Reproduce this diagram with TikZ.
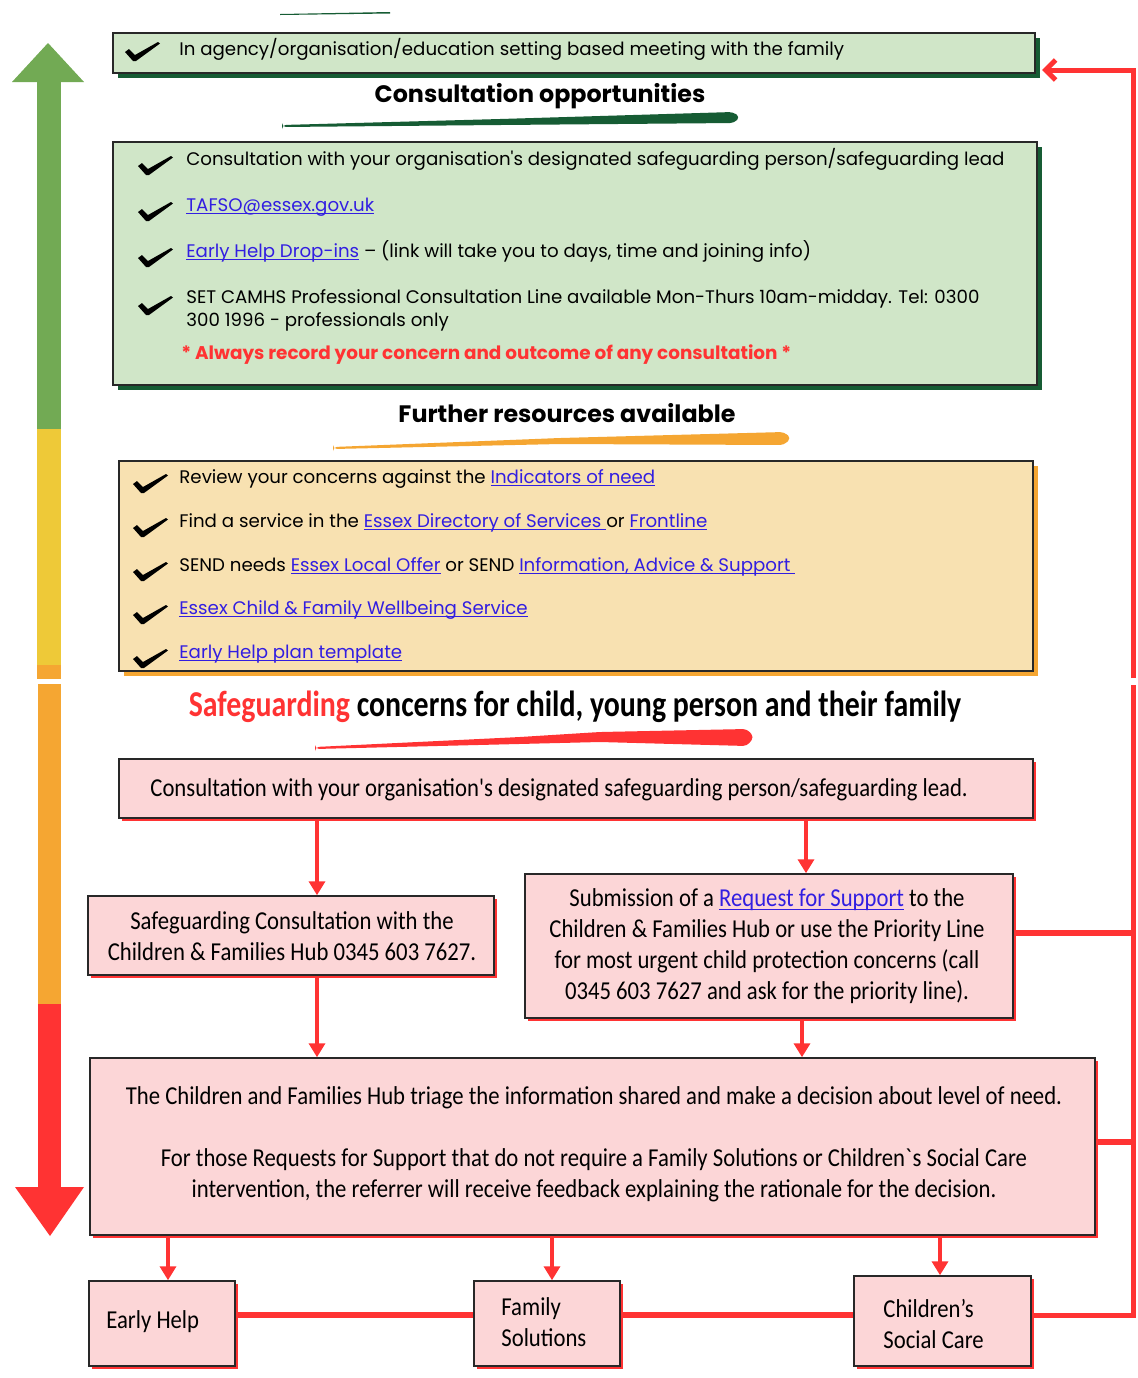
\documentclass[tikz,border=0pt]{standalone}
\usepackage{fontspec}
\setmainfont{Carlito}
\newfontfamily\geo{Poppins}
\newfontfamily\cond[FakeStretch=0.88]{Carlito}
\newfontfamily\condh[FakeStretch=0.82]{Carlito}
\usetikzlibrary{arrows.meta,fit,calc}
\definecolor{lgreen}{RGB}{208,230,200}
\definecolor{dgreen}{RGB}{22,92,52}
\definecolor{agreen}{RGB}{114,170,84}
\definecolor{ayellow}{RGB}{238,201,56}
\definecolor{aorange}{RGB}{245,166,50}
\definecolor{lyellow}{RGB}{248,225,177}
\definecolor{lpink}{RGB}{252,214,215}
\definecolor{sred}{RGB}{255,51,51}
\definecolor{linkblue}{RGB}{50,30,225}
\definecolor{bordr}{RGB}{40,40,40}
\newcommand\lnk[1]{{\color{linkblue}\setbox0\hbox{#1}\rlap{\vrule height -1.1pt depth 1.7pt width \wd0}\box0}}
\begin{document}
\begin{tikzpicture}[x=0.5pt,y=-0.5pt,
  gbox/.style={draw=bordr, line width=1.1pt, fill=lgreen, inner sep=0pt,
    preaction={fill=dgreen, transform canvas={xshift=2.5pt,yshift=-2.5pt}}},
  ybox/.style={draw=bordr, line width=1.1pt, fill=lyellow, inner sep=0pt,
    preaction={fill=aorange, transform canvas={xshift=2.5pt,yshift=-2.5pt}}},
  pbox/.style={draw=bordr, line width=0.75pt, fill=lpink, inner sep=0pt,
    preaction={fill=sred, transform canvas={xshift=1.5pt,yshift=-1.5pt}}},
  gtxt/.style={font=\geo\fontsize{9.1}{11.5}\selectfont, inner sep=0pt, anchor=base west},
  ghead/.style={font=\geo\bfseries\fontsize{11.9}{14}\selectfont, inner sep=0pt, anchor=base},
  ptxt/.style={font=\cond\fontsize{12.9}{15.5}\selectfont, inner sep=0pt, align=left},
  ctxt/.style={font=\cond\fontsize{12.9}{15.5}\selectfont, inner sep=0pt, align=center},
  conn/.style={draw=sred, line width=2pt, -{Triangle[length=7pt,width=8pt]}},
  rline/.style={draw=sred, line width=2.5pt},
  hline/.style={draw=sred, line width=3pt},
  tick/.pic={\fill[black] (0,9) -- (4,6) -- (10,12) -- (33,-1) -- (35,0.5) -- (11,18) -- (8,18) -- cycle;}
]
\fill[white] (0,0) rectangle (1138,1378);
\path[use as bounding box] (0,0) rectangle (1138,1378);

% ---- left colour arrow
\fill[agreen] (12,82) -- (48,43) -- (84,82) -- cycle;
\fill[agreen] (37,81) rectangle (61,429);
\fill[ayellow] (37,429) rectangle (61,665);
\fill[aorange] (37,665) rectangle (61,679);
\fill[aorange] (38,684) rectangle (61,1004);
\fill[sred] (38,1004) rectangle (61,1188);
\fill[sred] (15,1187) -- (84,1187) -- (50,1236) -- cycle;

% ---- brush strokes
\fill[dgreen] (280,14) -- (390,12) -- (390,13.5) -- (280,15) -- cycle;
\fill[dgreen, rounded corners=2pt] (282,125) -- (500,119) -- (733,112) -- (740,117) -- (734,123) -- (500,125) -- (282,127) -- cycle;
\fill[aorange, rounded corners=2pt] (333,447) -- (560,438) -- (784,432) -- (791,438) -- (784,445) -- (560,444) -- (333,449) -- cycle;
\fill[sred, rounded corners=2pt] (315,747) -- (520,737) -- (600,732) -- (747,729) -- (754,737) -- (747,746) -- (600,742) -- (315,749) -- cycle;

% ---- top box
\node[gbox, fit={(113,33)(1035,73)}] (top) {};
\pic at (125,43) {tick};
\node[gtxt] (t0) at (179,55) {In agency/organisation/education setting based meeting with the family};

\node[ghead] (h1) at (540,102) {Consultation opportunities};

% ---- consultation box
\node[gbox, fit={(113,142)(1037,385)}] (cons) {};
\pic at (138,157) {tick};
\node[gtxt] (c1) at (186,165) {Consultation with your organisation's designated safeguarding person/safeguarding lead};
\pic at (138,203) {tick};
\node[gtxt] (c2) at (186,211) {\lnk{TAFSO@essex.gov.uk}};
\pic at (138,249) {tick};
\node[gtxt] (c3) at (186,257) {\lnk{Early Help Drop-ins} – (link will take you to days, time and joining info)};
\pic at (138,297) {tick};
\node[gtxt] (c4) at (186,303) {SET CAMHS Professional Consultation Line available Mon-Thurs 10am-midday. Tel: 0300};
\node[gtxt] (c4b) at (186,326) {300 1996 - professionals only};
\node[gtxt, font=\geo\bfseries\fontsize{9.2}{11}\selectfont, text=sred] (c5) at (181,359) {* Always record your concern and outcome of any consultation *};

\node[ghead] (h2) at (567,422) {Further resources available};

% ---- resources box
\node[ybox, fit={(119,461)(1033,671)}] (res) {};
\pic at (133,475) {tick};
\node[gtxt] (r1) at (179,483) {Review your concerns against the \lnk{Indicators of need}};
\pic at (133,519) {tick};
\node[gtxt] (r2) at (179,527) {Find a service in the \lnk{Essex Directory of Services\ }or \lnk{Frontline}};
\pic at (133,563) {tick};
\node[gtxt] (r3) at (179,571) {SEND needs \lnk{Essex Local Offer} or SEND \lnk{Information, Advice \& Support\ }};
\pic at (133,606) {tick};
\node[gtxt] (r4) at (179,614) {\lnk{Essex Child \& Family Wellbeing Service}};
\pic at (133,650) {tick};
\node[gtxt] (r5) at (179,658) {\lnk{Early Help plan template}};

% ---- safeguarding heading
\node[font=\condh\bfseries\fontsize{18.2}{21}\selectfont, inner sep=0pt, anchor=base] (h3) at (575,716)
  {{\color{sred}Safeguarding} concerns for child, young person and their family};

% ---- flow boxes
\node[pbox, fit={(119,759)(1033,818)}] (p1) {};
\node[ptxt, anchor=base west] (p1t) at (150,796) {Consultation with your organisation's designated safeguarding person/safeguarding lead.};
\node[pbox, fit={(88,896)(494,975)}] (p2) {};
\node[ctxt] (p2t) at (292,936) {Safeguarding Consultation with the\\ Children \& Families Hub 0345 603 7627.};
\node[pbox, fit={(525,874)(1013,1018)}] (p3) {};
\node[ctxt] (p3t) at (767,946) {Submission of a \lnk{Request for Support} to the\\ Children \& Families Hub or use the Priority Line\\ for most urgent child protection concerns (call\\ 0345 603 7627 and ask for the priority line).};
\node[pbox, fit={(90,1058)(1095,1235)}] (p4) {};
\node[ctxt] (p4t) at (594,1144) {The Children and Families Hub triage the information shared and make a decision about level of need.\\[15.5pt] For those Requests for Support that do not require a Family Solutions or Children\textasciigrave s Social Care\\ intervention, the referrer will receive feedback explaining the rationale for the decision.};
\node[pbox, fit={(89,1281)(235,1366)}] (eh) {};
\node[ptxt, anchor=west] (eht) at (106,1322) {Early Help};
\node[pbox, fit={(474,1281)(620,1366)}] (fs) {};
\node[ptxt, anchor=west] (fst) at (501,1322) {Family\\ Solutions};
\node[pbox, fit={(854,1276)(1031,1366)}] (csc) {};
\node[ptxt, anchor=west] (csct) at (883,1324) {Children’s\\ Social Care};

% ---- connectors
\coordinate (xa) at (317,0);
\coordinate (xb) at (806,0);
\coordinate (xc) at (802,0);
\coordinate (xd) at (168,0);
\coordinate (xe) at (552,0);
\coordinate (xf) at (940,0);
\coordinate (xr) at (1133,0);
\coordinate (yb) at (0,1315);
\coordinate (yc) at (0,933);
\coordinate (yd) at (0,1142);
\coordinate (gb) at (0,685);
\coordinate (gt) at (0,678);
\coordinate (ya) at (0,70);

\draw[conn] (xa |- p1.south) -- (xa |- p2.north);
\draw[conn] (xb |- p1.south) -- (xb |- p3.north);
\draw[conn] (xa |- p2.south) -- (xa |- p4.north);
\draw[conn] (xc |- p3.south) -- (xc |- p4.north);
\draw[conn] (xd |- p4.south) -- (xd |- eh.north);
\draw[conn] (xe |- p4.south) -- (xe |- fs.north);
\draw[conn] (xf |- p4.south) -- (xf |- csc.north);

\draw[hline] (eh.east |- yb) -- (fs.west |- yb);
\draw[hline] (fs.east |- yb) -- (csc.west |- yb);
\draw[hline] (p3.east |- yc) -- (xr |- yc);
\draw[hline] (p4.east |- yd) -- (xr |- yd);
\draw[rline, line join=miter] (csc.east |- yb) -- (xr |- yb) -- (xr |- gb);
\draw[rline, line join=miter, -{Straight Barb[length=5pt,width=10pt]}] (xr |- gt) -- (xr |- ya) -- ([xshift=3pt]top.east |- ya);
\end{tikzpicture}
\end{document}
